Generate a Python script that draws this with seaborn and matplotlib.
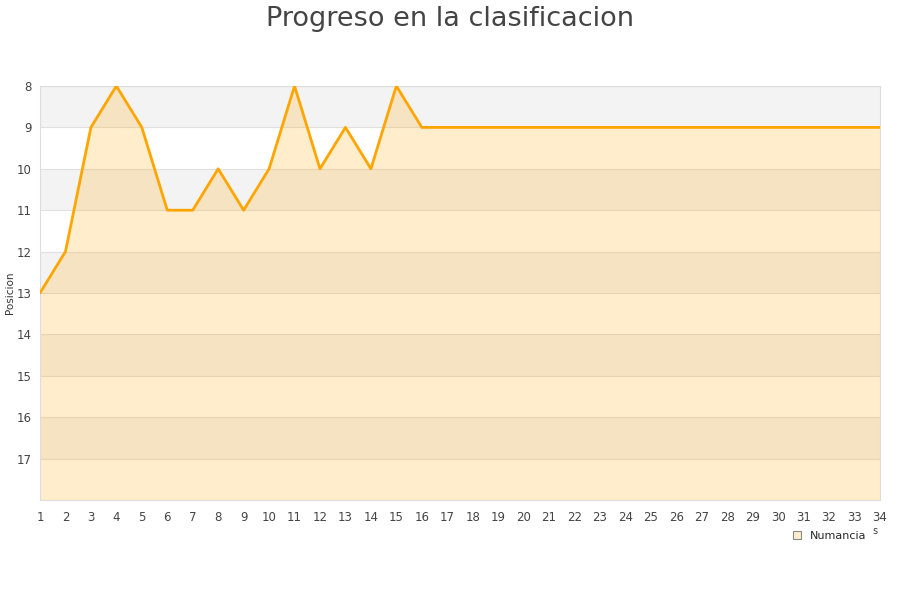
import matplotlib
matplotlib.use("Agg")
import matplotlib.pyplot as plt
import seaborn as sns
import pandas as pd
from matplotlib.patches import Patch

# datos
jornadas = list(range(1, 35))
posiciones = [13, 12, 9, 8, 9, 11, 11, 10, 11, 10, 8, 10, 9, 10, 8, 9] + [9] * 18
equipo = "Numancia"
y_ticks = list(range(8, 18))

df = pd.DataFrame({"jornada": jornadas, "posicion": posiciones})

sns.set_style("white")
plt.rcParams["font.family"] = ["DejaVu Sans"]

fig = plt.figure(figsize=(9, 6), dpi=100)
ax = fig.add_axes([40 / 900, 1 - 500 / 600, 840 / 900, 414 / 600])

# bandas alternas
for i, y in enumerate(range(8, 18)):
    if i % 2 == 0:
        ax.axhspan(y, y + 1, color="#f3f3f3", zorder=0, lw=0)
    ax.axhline(y, color="#e0e0e0", lw=0.8, zorder=1)

ax.fill_between(df["jornada"], df["posicion"], 18, color="#ffa500", alpha=0.2, lw=0, zorder=2)
sns.lineplot(data=df, x="jornada", y="posicion", color="#ffa500", lw=2, ax=ax, zorder=3)

ax.set_xlim(1, 34)
ax.set_ylim(18, 8)
ax.set_xticks(jornadas)
ax.set_yticks(y_ticks)
ax.tick_params(axis="x", labelsize=8.5, colors="#444444", length=0, pad=8)
ax.tick_params(axis="y", labelsize=8.5, colors="#444444", length=0, pad=6)
ax.set_xlabel("")
ax.set_ylabel("")
for s in ax.spines.values():
    s.set_color("#dddddd")
    s.set_linewidth(0.8)

fig.text(10 / 900, 1 - 293 / 600, "Posicion", rotation=90, fontsize=7.5, color="#333333",
         ha="center", va="center")
fig.suptitle("Progreso en la clasificacion", fontsize=19.5, color="#444444", y=0.99)

handle = Patch(facecolor="#ffedcc", edgecolor="#888888", lw=0.8)
fig.legend([handle], [equipo], loc="center", bbox_to_anchor=(830 / 900, 1 - 536 / 600),
           frameon=False, fontsize=8, handlelength=0.7, handleheight=0.7, handletextpad=0.8)
fig.text(875 / 900, 1 - 531 / 600, "s", fontsize=7, color="#444444", ha="center", va="center")

fig.savefig("out.png", dpi=100)
